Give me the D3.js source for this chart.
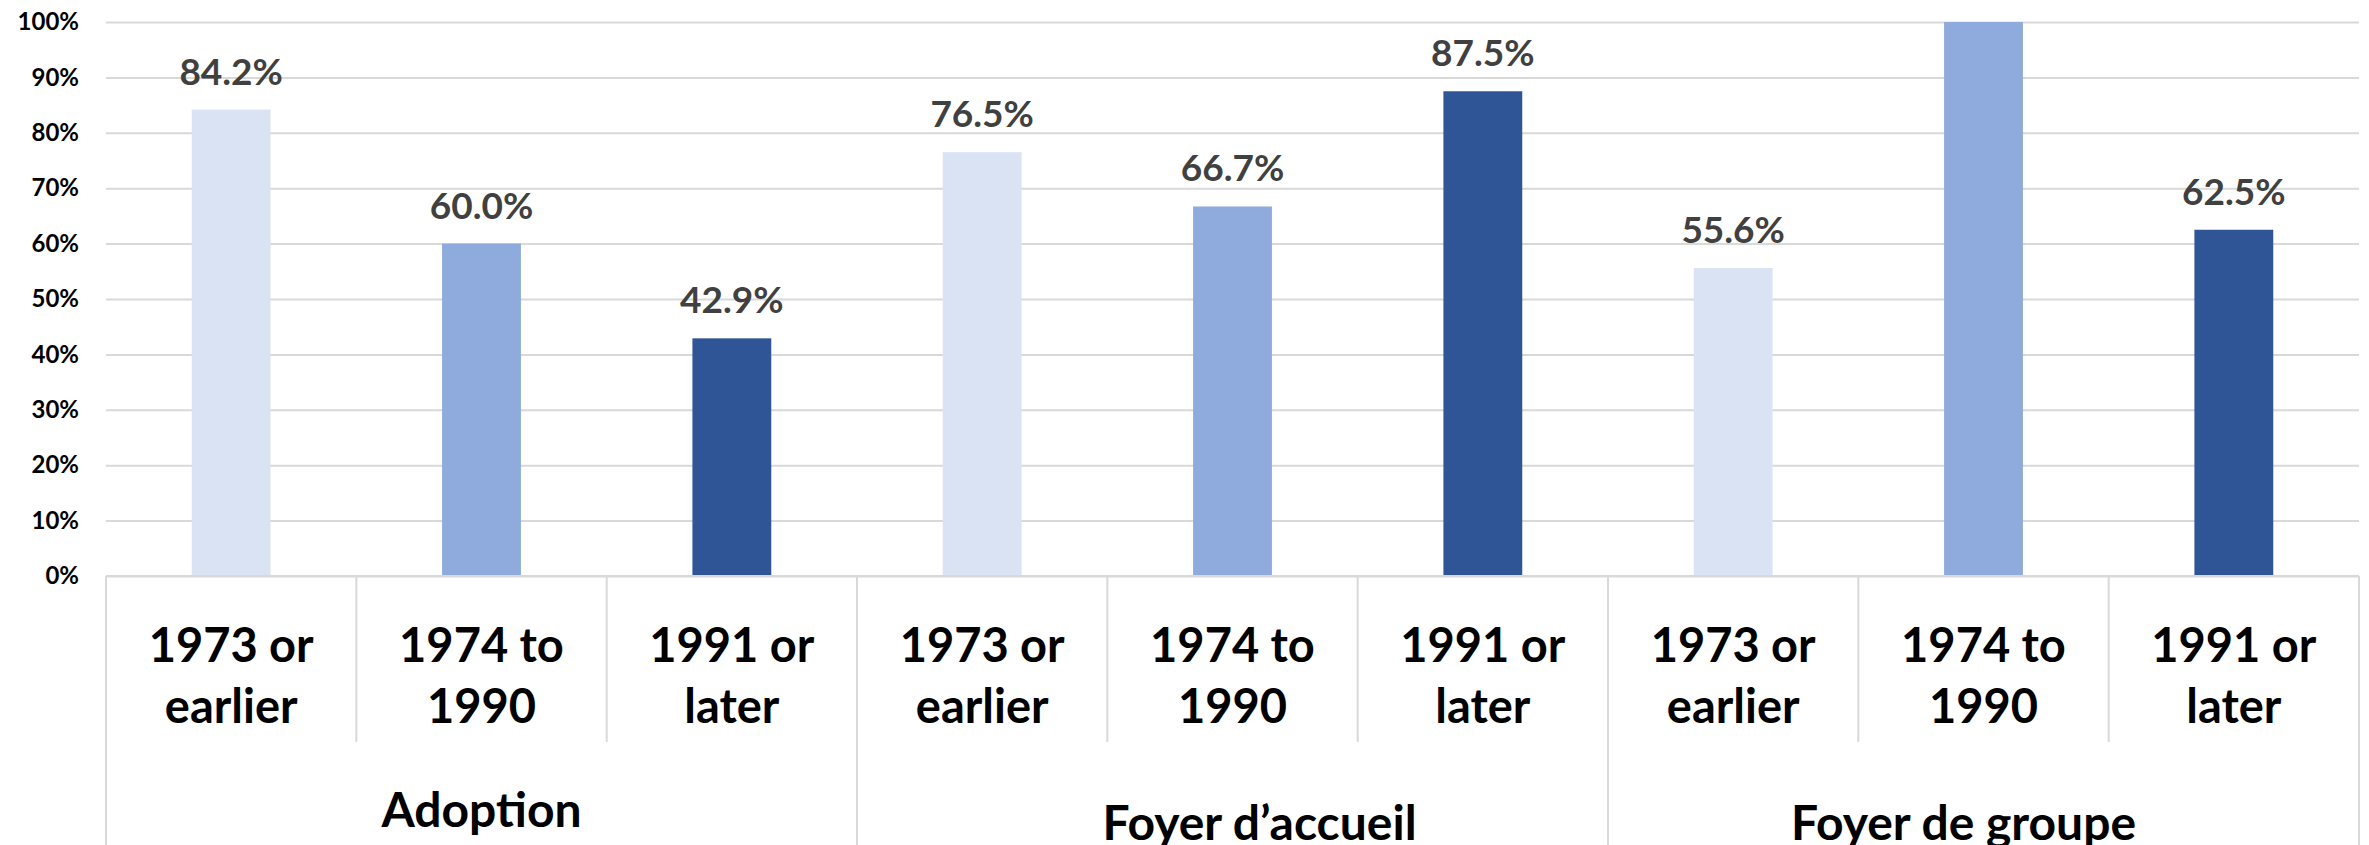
<!DOCTYPE html>
<html>
<head>
<meta charset="utf-8">
<script src="https://cdn.jsdelivr.net/npm/d3@7"></script>
<style>
  body { margin: 0; background: #fff; }
  svg { display: block; font-family: Lato, "Open Sans", sans-serif; font-weight: bold; }
</style>
</head>
<body>
<svg></svg>
<script>
// data
var groups = ["Adoption", "Foyer d’accueil", "Foyer de groupe"];
var periods = ["1973 or earlier", "1974 to 1990", "1991 or later"];
var adoption = [84.2, 60.0, 42.9];
var foyerAccueil = [76.5, 66.7, 87.5];
var foyerGroupe = [55.6, 100.0, 62.5];
var yTicks = [0, 10, 20, 30, 40, 50, 60, 70, 80, 90, 100];

var colors = ["#dae3f3", "#8faadc", "#2f5597"];

var svgWidth = 2369, svgHeight = 845;
// note: "top" is taken by window.top, so plot* names
var plotLeft = 106, plotRight = 2359, plotTop = 22, plotBottom = 576;

var svg = d3.select("svg")
  .attr("width", svgWidth)
  .attr("height", svgHeight);

// flatten to one row per bar
var series = [adoption, foyerAccueil, foyerGroupe];
var rows = [];
groups.forEach(function (g, gi) {
  periods.forEach(function (p, pi) {
    rows.push({ group: g, gi: gi, period: p, pi: pi, value: series[gi][pi] });
  });
});

var xScale = d3.scaleBand()
  .domain(d3.range(rows.length))
  .range([plotLeft, plotRight])
  .paddingInner(0.685)
  .paddingOuter(0.685 / 2);
var step = xScale.step();

var yScale = d3.scaleLinear()
  .domain([0, 100])
  .range([plotBottom, plotTop]);

// gridlines + y labels
var y_axis = d3.axisLeft(yScale)
  .tickValues(yTicks)
  .tickSize(-(plotRight - plotLeft))
  .tickPadding(27)
  .tickFormat(function (d) { return d + "%"; });

var yg = svg.append("g")
  .attr("transform", "translate(" + plotLeft + ",0)")
  .call(y_axis);
yg.select(".domain").remove();
yg.selectAll(".tick line").attr("stroke", "#d9d9d9").attr("stroke-width", 2);
yg.selectAll(".tick text")
  .attr("fill", "#000")
  .style("font-size", "24px")
  .style("font-family", "Lato, sans-serif")
  .style("font-weight", "bold");

// bars
svg.selectAll("rect.bar")
  .data(rows)
  .enter()
  .append("rect")
  .attr("class", "bar")
  .attr("x", function (d, i) { return xScale(i); })
  .attr("y", function (d) { return yScale(d.value); })
  .attr("width", xScale.bandwidth())
  .attr("height", function (d) { return plotBottom - yScale(d.value); })
  .attr("fill", function (d) { return colors[d.pi]; });

// value labels (the 100% one falls above the picture, as in the original)
svg.selectAll("text.val")
  .data(rows.filter(function (d) { return d.value < 100; }))
  .enter()
  .append("text")
  .attr("class", "val")
  .attr("x", function (d) { return xScale(d.gi * 3 + d.pi) + xScale.bandwidth() / 2; })
  .attr("y", function (d) { return yScale(d.value) - 25; })
  .attr("text-anchor", "middle")
  .attr("fill", "#404040")
  .style("font-size", "37px")
  .text(function (d) { return d.value.toFixed(1) + "%"; });

// category axis lines
var lineColor = "#d9d9d9";
svg.append("line")
  .attr("x1", plotLeft).attr("x2", plotRight)
  .attr("y1", plotBottom).attr("y2", plotBottom)
  .attr("stroke", lineColor).attr("stroke-width", 2);

d3.range(rows.length + 1).forEach(function (i) {
  var x = plotLeft + step * i;
  var outer = i % periods.length === 0;
  svg.append("line")
    .attr("x1", x).attr("x2", x)
    .attr("y1", plotBottom).attr("y2", outer ? svgHeight : 742)
    .attr("stroke", lineColor).attr("stroke-width", 2);
});

// period labels, two lines
var cat = svg.selectAll("text.cat")
  .data(rows)
  .enter()
  .append("text")
  .attr("class", "cat")
  .attr("text-anchor", "middle")
  .attr("fill", "#000")
  .style("font-size", "47px");
cat.each(function (d, i) {
  var cut = d.period.lastIndexOf(" ");
  var lines = [d.period.slice(0, cut), d.period.slice(cut + 1)];
  var cx = xScale(i) + xScale.bandwidth() / 2;
  d3.select(this).selectAll("tspan")
    .data(lines)
    .enter()
    .append("tspan")
    .attr("x", cx)
    .attr("y", function (l, k) { return 662 + k * 61; })
    .text(function (l) { return l; });
});

// group labels
var groupDx = [0, 27, -20], groupY = [827, 840, 840];
svg.selectAll("text.grp")
  .data(groups)
  .enter()
  .append("text")
  .attr("class", "grp")
  .attr("x", function (g, gi) { return plotLeft + step * (gi * 3 + 1.5) + groupDx[gi]; })
  .attr("y", function (g, gi) { return groupY[gi]; })
  .attr("text-anchor", "middle")
  .attr("fill", "#000")
  .style("font-size", "48px")
  .text(function (g) { return g; });
</script>
</body>
</html>
